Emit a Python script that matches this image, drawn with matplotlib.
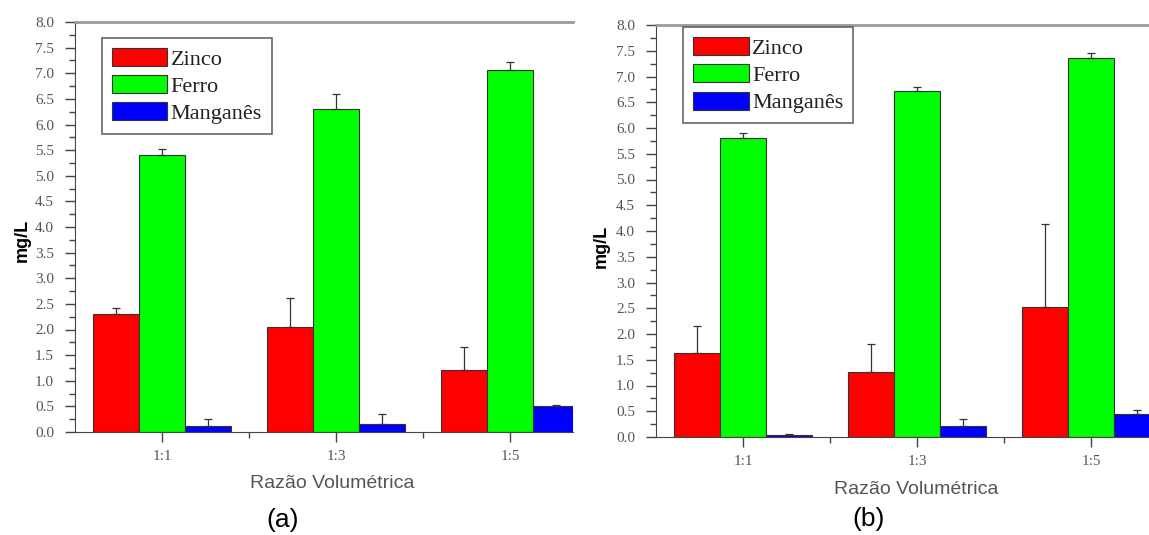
import numpy as np
import matplotlib.pyplot as plt
from matplotlib.ticker import MultipleLocator, FormatStrFormatter, FixedLocator

# data (mean and upper end of the error bar)
razoes = ['1:1', '1:3', '1:5']
series = ['Zinco', 'Ferro', 'Manganês']
cores = ['#ff0000', '#00ff00', '#0000ff']

# panel (a)
zinco_a = [2.30, 2.05, 1.21]
zinco_a_top = [2.41, 2.61, 1.66]
ferro_a = [5.41, 6.31, 7.06]
ferro_a_top = [5.52, 6.59, 7.22]
mang_a = [0.12, 0.16, 0.50]
mang_a_top = [0.26, 0.35, 0.52]

# panel (b)
zinco_b = [1.63, 1.27, 2.53]
zinco_b_top = [2.15, 1.80, 4.14]
ferro_b = [5.80, 6.71, 7.35]
ferro_b_top = [5.91, 6.79, 7.46]
mang_b = [0.03, 0.22, 0.44]
mang_b_top = [0.05, 0.35, 0.53]

W, H = 1149, 535
fig = plt.figure(figsize=(W / 100, H / 100), dpi=100)

serif = 'Liberation Serif'
sans = 'Liberation Sans'
grey = '#555555'


def painel(rect, xmax, valores, tops, leg_anchor):
    ax = fig.add_axes(rect)
    x = np.arange(1, len(razoes) + 1)
    w = 0.265
    for i, (v, t) in enumerate(zip(valores, tops)):
        v = np.array(v)
        err = np.array(t) - v
        ax.bar(x + (i - 1) * w, v, w, color=cores[i], edgecolor='#333333',
               linewidth=0.8, label=series[i],
               yerr=[np.zeros_like(err), err],
               error_kw=dict(ecolor='#333333', elinewidth=0.9, capsize=3, capthick=0.9))
    ax.set_xlim(0.5, xmax)
    ax.set_ylim(0, 8)
    ax.set_xticks(x)
    ax.set_xticklabels(razoes, fontfamily=serif, fontsize=11, color=grey)
    ax.xaxis.set_minor_locator(FixedLocator([1.5, 2.5, 3.5]))
    ax.yaxis.set_major_locator(MultipleLocator(0.5))
    ax.yaxis.set_minor_locator(MultipleLocator(0.25))
    ax.yaxis.set_major_formatter(FormatStrFormatter('%.1f'))
    for lab in ax.get_yticklabels():
        lab.set_fontfamily(serif)
        lab.set_fontsize(11)
        lab.set_color(grey)
    ax.tick_params(axis='both', which='major', direction='out', length=7, width=1, color='#444444')
    ax.tick_params(axis='both', which='minor', direction='out', length=4, width=1, color='#444444')
    ax.tick_params(axis='y', which='major', pad=8)
    ax.tick_params(axis='x', which='major', pad=6)
    ax.spines['right'].set_visible(False)
    ax.spines['top'].set_color('#999999')
    ax.spines['top'].set_linewidth(2)
    ax.spines['left'].set_color('#444444')
    ax.spines['bottom'].set_color('#444444')
    leg = ax.legend(loc='upper left', bbox_to_anchor=leg_anchor, borderaxespad=0,
                    prop={'family': serif, 'size': 16}, handlelength=2.5,
                    handleheight=0.87, handletextpad=0.15, labelspacing=0.25,
                    borderpad=0.45, fancybox=False, framealpha=1)
    leg.get_frame().set_edgecolor('#666666')
    leg.get_frame().set_linewidth(1.2)
    for txt in leg.get_texts():
        txt.set_color('#222222')
    return ax


def frac(left, right, top, bottom):
    return [left / W, 1 - bottom / H, (right - left) / W, (bottom - top) / H]


ax_a = painel(frac(75, 573, 22, 432), 0.5 + 498 / 174,
              [zinco_a, ferro_a, mang_a], [zinco_a_top, ferro_a_top, mang_a_top],
              (0.054, 0.961))
ax_b = painel(frac(656, 1149, 25, 437), 0.5 + 493 / 174,
              [zinco_b, ferro_b, mang_b], [zinco_b_top, ferro_b_top, mang_b_top],
              (0.055, 0.995))

# axis titles and panel letters placed in figure pixels
def txt(x, y, s, **kw):
    fig.text(x / W, 1 - y / H, s, ha='center', va='center', **kw)

txt(22, 240, 'mg/L', rotation=90, fontfamily=sans, fontweight='bold', fontsize=13, color='black')
txt(601, 246, 'mg/L', rotation=90, fontfamily=sans, fontweight='bold', fontsize=13, color='black')
txt(332, 483, 'Razão Volumétrica', fontfamily=sans, fontsize=14, color=grey)
txt(916, 489, 'Razão Volumétrica', fontfamily=sans, fontsize=14, color=grey)
txt(283, 520, '(a)', fontfamily=sans, fontsize=19, color='black')
txt(869, 519, '(b)', fontfamily=sans, fontsize=19, color='black')

fig.savefig('out.png', dpi=100)
